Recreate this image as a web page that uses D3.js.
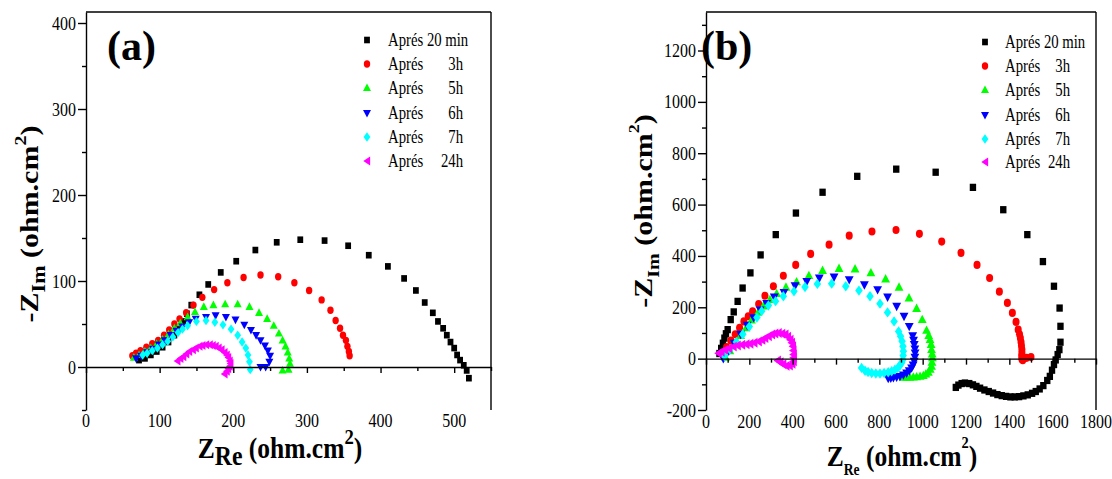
<!DOCTYPE html>
<html><head><meta charset="utf-8">
<script src="https://cdn.jsdelivr.net/npm/d3@7"></script>
<style>
body{margin:0;background:#fff}
svg{display:block}
text, tspan{font-family:"Liberation Serif","Times New Roman",Times,serif;fill:#000}
</style>
</head><body>
<svg id="c" width="1112" height="479"></svg>
<script>
// ---------- DATA ----------
const legendWord = ["Aprés","Aprés","Aprés","Aprés","Aprés","Aprés"];
const legendTime = ["20 min","3h","5h","6h","7h","24h"];
const colors = ["#000000","#ff0000","#00ff00","#0000ff","#00ffff","#ff00ff"];
const shapes = ["square","circle","up","down","diamond","left"];

// panel (a)
const a_20min = [[72,8],[80,10],[88,14],[96,18],[104,23],[112,29],[120,37],[127,45],[132,53],[137,62],[143,72],[154,84],[166,96],[183,110],[204,123],[230,136],[259,145],[291,148],[324,147],[356,141],[384,130],[410,117],[432,103],[448,89],[460,75],[471,63],[478,53],[485,45],[490,37],[495,29],[500,22],[504,14],[508,8],[513,2],[517,-4],[520,-13]];
const a_3h = [[63,13],[68,16],[74,19],[82,23],[90,27],[98,31],[106,37],[113,43],[120,50],[127,56],[136,63],[146,72],[158,81],[174,90],[192,98],[214,104],[237,107],[261,105],[283,98],[303,89],[320,78],[332,66],[339,54],[345,45],[349,37],[353,31],[355,24],[357,18],[358,13]];
const a_5h = [[65,11],[72,14],[80,18],[88,22],[96,27],[104,32],[112,38],[120,45],[128,51],[138,58],[148,64],[160,70],[173,72],[189,73],[206,73],[222,70],[235,63],[246,56],[255,48],[262,39],[267,31],[271,24],[274,17],[276,10],[277,4],[275,-3],[267,-4]];
const a_6h = [[68,10],[75,13],[83,17],[91,21],[99,26],[107,31],[115,37],[123,42],[131,47],[140,52],[149,56],[163,58],[176,60],[190,58],[203,55],[215,49],[224,43],[231,37],[237,31],[243,25],[247,19],[250,13],[249,6],[244,0],[237,0]];
const a_7h = [[77,14],[83,16],[90,19],[97,22],[104,26],[111,30],[118,35],[125,40],[131,44],[138,48],[150,53],[163,54],[175,52],[186,49],[197,44],[206,37],[212,29],[217,22],[220,14],[222,6],[223,-3]];
const a_24h = [[124,7],[128,10],[132,12],[136,15],[140,18],[145,20],[149,22],[154,24],[158,25],[163,26],[168,26],[172,25],[176,24],[180,22],[184,20],[188,17],[191,14],[193,11],[195,7],[196,4],[195,1],[193,-2],[191,-5],[188,-8]];

// panel (b)
const b_20min = [[62,20],[70,40],[78,60],[85,80],[92,97],[100,113],[114,152],[128,182],[146,223],[169,275],[205,334],[252,404],[322,483],[415,567],[538,648],[698,710],[878,738],[1060,726],[1232,667],[1372,580],[1483,483],[1555,378],[1606,282],[1632,197],[1636,126],[1636,64],[1631,35],[1623,16],[1614,-5],[1606,-23],[1597,-45],[1587,-69],[1575,-85],[1557,-105],[1540,-118],[1522,-128],[1505,-135],[1485,-141],[1465,-145],[1445,-148],[1425,-149],[1405,-149],[1385,-147],[1365,-144],[1345,-140],[1325,-134],[1305,-128],[1285,-122],[1265,-115],[1248,-108],[1232,-102],[1215,-97],[1195,-95],[1180,-97],[1165,-103],[1153,-112]];
const b_3h = [[75,20],[95,45],[115,70],[135,95],[155,120],[175,145],[195,165],[215,184],[243,213],[272,245],[311,282],[357,323],[414,365],[483,408],[568,444],[661,479],[766,495],[877,501],[985,486],[1088,456],[1177,412],[1251,365],[1309,314],[1354,261],[1391,217],[1414,178],[1431,143],[1441,113],[1447,95],[1451,80],[1454,65],[1456,50],[1458,35],[1458,22],[1457,10],[1458,-2],[1462,-6],[1480,3],[1500,6]];
const b_5h = [[90,5],[110,30],[135,60],[160,90],[185,120],[210,150],[240,180],[265,205],[295,230],[326,253],[369,278],[418,299],[475,323],[538,343],[614,351],[688,349],[761,334],[829,310],[891,278],[937,236],[972,195],[998,152],[1018,110],[1028,90],[1034,74],[1039,55],[1041,35],[1044,18],[1045,3],[1043,-14],[1041,-30],[1035,-42],[1026,-53],[1015,-60],[1003,-66],[988,-69],[972,-71],[957,-72],[941,-73],[926,-73],[911,-73]];
const b_6h = [[80,0],[105,30],[130,60],[160,95],[190,130],[220,160],[250,190],[280,215],[315,240],[360,258],[411,284],[465,301],[523,314],[591,318],[661,308],[731,288],[792,269],[838,240],[880,204],[914,165],[938,126],[954,90],[958,72],[961,55],[964,38],[965,22],[964,6],[961,-10],[956,-24],[949,-36],[938,-47],[926,-56],[911,-63],[895,-69],[880,-72],[865,-74],[853,-76],[841,-77]];
const b_7h = [[85,10],[110,35],[140,65],[170,95],[200,125],[235,160],[257,185],[288,207],[321,224],[357,243],[406,262],[457,279],[514,291],[580,292],[645,282],[706,265],[757,243],[803,214],[838,180],[868,145],[889,106],[898,87],[905,68],[909,48],[911,29],[910,12],[908,-4],[903,-16],[895,-27],[885,-36],[872,-43],[857,-49],[841,-53],[822,-56],[803,-58],[784,-58],[765,-56],[748,-52],[734,-47],[718,-36]];
const b_24h = [[57,21],[70,27],[87,34],[105,40],[126,47],[145,51],[165,54],[185,56],[203,58],[222,62],[242,67],[258,73],[272,80],[288,87],[303,94],[318,98],[334,100],[350,97],[365,94],[377,85],[388,74],[395,62],[400,48],[402,32],[403,16],[403,3],[403,-10],[397,-20],[385,-27],[370,-28],[355,-22],[342,-14],[330,-7]];

// ticks
const aXMajor = [0,100,200,300,400,500], aXMinor = [50,150,250,350,450,550];
const aYMajor = [0,100,200,300,400], aYMinor = [-50,50,150,250,350];
const bXMajor = [0,200,400,600,800,1000,1200,1400,1600,1800], bXMinor = [100,300,500,700,900,1100,1300,1500,1700];
const bYMajor = [-200,0,200,400,600,800,1000,1200], bYMinor = [-100,100,300,500,700,900,1100,1300];

// ---------- DRAW ----------
const svg = d3.select("#c");
const SX = 0.82;
const FONT = '"Liberation Serif","Times New Roman",Times,serif';

function symPath(shape, s) {
  switch (shape) {
    case "square": return `M${-2.9*s},${-3.3*s}h${5.8*s}v${6.6*s}h${-5.8*s}Z`;
    case "circle": { const rx=3.2*s, ry=3.7*s; return `M${-rx},0a${rx},${ry} 0 1,0 ${2*rx},0a${rx},${ry} 0 1,0 ${-2*rx},0Z`; }
    case "up": return `M0,${-4.5*s}L${4*s},${3.1*s}L${-4*s},${3.1*s}Z`;
    case "down": return `M0,${4.5*s}L${4*s},${-3.1*s}L${-4*s},${-3.1*s}Z`;
    case "diamond": return `M0,${-4.7*s}L${3.4*s},0L0,${4.7*s}L${-3.4*s},0Z`;
    case "left": return `M${-3.7*s},0L${3.1*s},${-4.5*s}L${3.1*s},${4.5*s}Z`;
  }
}

function stext(g, x, y, str, size, anchor, weight, sx) {
  return g.append("text")
    .attr("transform", `translate(${x},${y}) scale(${sx||SX},1)`)
    .attr("text-anchor", anchor || "start")
    .attr("font-family", FONT)
    .attr("font-size", size)
    .attr("font-weight", weight || "normal")
    .text(str);
}

function richText(g, transform, anchor, parts) {
  const t = g.append("text").attr("transform", transform).attr("text-anchor", anchor)
    .attr("font-family", FONT).attr("font-weight", "bold");
  parts.forEach(p => t.append("tspan").attr("font-size", p.size).attr("dy", p.dy || 0).text(p.t));
  return t;
}

function panel(cfg) {
  const g = svg.append("g");
  const x = d3.scaleLinear().domain(cfg.xDomain).range(cfg.xRange);
  const y = d3.scaleLinear().domain(cfg.yDomain).range(cfg.yRange);
  const x0 = cfg.xRange[0], x1 = cfg.xRange[1], yTop = cfg.yRange[1], yBot = cfg.yRange[0];

  cfg.series.forEach((data, i) => {
    g.append("g").selectAll("path").data(data).join("path")
      .attr("d", symPath(shapes[i], cfg.sym))
      .attr("transform", d => `translate(${x(d[0])},${y(d[1])})`)
      .attr("fill", colors[i]);
  });

  const ya = g.append("g").attr("transform", `translate(${x0},0)`)
    .call(d3.axisLeft(y).tickValues(cfg.yMajor).tickSize(8).tickSizeOuter(0).tickFormat(""));
  const ym = g.append("g").attr("transform", `translate(${x0},0)`)
    .call(d3.axisLeft(y).tickValues(cfg.yMinor).tickSize(4).tickSizeOuter(0).tickFormat(""));
  ym.select(".domain").remove();
  const xa = g.append("g").attr("transform", `translate(0,${y(0)})`)
    .call(d3.axisBottom(x).tickValues(cfg.xMajor).tickSize(6).tickSizeOuter(0).tickFormat(""));
  const xm = g.append("g").attr("transform", `translate(0,${y(0)})`)
    .call(d3.axisBottom(x).tickValues(cfg.xMinor).tickSize(4).tickSizeOuter(0).tickFormat(""));
  xm.select(".domain").remove();
  [ya, ym, xa, xm].forEach(a => a.selectAll("path,line").attr("stroke", "#000").attr("stroke-width", 1.4));

  g.append("line").attr("x1", x0).attr("x2", x1).attr("y1", yTop).attr("y2", yTop).attr("stroke", "#000").attr("stroke-width", 1.4);
  g.append("line").attr("x1", x1).attr("x2", x1).attr("y1", yTop).attr("y2", yBot).attr("stroke", "#000").attr("stroke-width", 1.4);

  cfg.yMajor.forEach(v => stext(g, x0 - 10, y(v) + 6.5, String(v), 19.5, "end"));
  cfg.xMajor.forEach(v => stext(g, x(v), cfg.xLabelY, String(v), 19.5, "middle"));

  stext(g, cfg.letterX, 60, cfg.letter, 42, "start", "bold", 1);

  cfg.series.forEach((d, i) => {
    const ly = cfg.legY[i];
    g.append("path").attr("d", symPath(shapes[i], 1)).attr("transform", `translate(${cfg.legSymX},${ly})`).attr("fill", colors[i]);
    if (i === 0) {
      stext(g, cfg.legTextX, ly + 6, legendWord[i] + " " + legendTime[i], 18, "start");
    } else {
      stext(g, cfg.legTextX, ly + 6, legendWord[i], 18, "start");
      stext(g, cfg.legEnd, ly + 6, legendTime[i], 18, "end");
    }
  });
  return g;
}

panel({
  xDomain: [0, 550], xRange: [86, 491], yDomain: [-50, 412.8], yRange: [410, 12],
  series: [a_20min, a_3h, a_5h, a_6h, a_7h, a_24h], sym: 1,
  xMajor: aXMajor, xMinor: aXMinor, yMajor: aYMajor, yMinor: aYMinor,
  xLabelY: 427, letter: "(a)", letterX: 107,
  legSymX: 367, legTextX: 388, legEnd: 463, legY: [40, 64, 88, 113, 137, 161]
});
panel({
  xDomain: [0, 1800], xRange: [706, 1096], yDomain: [-200, 1350], yRange: [410, 12],
  series: [b_20min, b_3h, b_5h, b_6h, b_7h, b_24h], sym: 1.1,
  xMajor: bXMajor, xMinor: bXMinor, yMajor: bYMajor, yMinor: bYMinor,
  xLabelY: 428, letter: "(b)", letterX: 701,
  legSymX: 985, legTextX: 1005, legEnd: 1070, legY: [42, 66, 90, 115, 139, 162]
});

// axis titles (a)
richText(svg, `translate(280,458) scale(0.85,1)`, "middle", [
  {t:"Z", size:30}, {t:"Re", size:28, dy:7}, {t:" (ohm.cm", size:30, dy:-7}, {t:"2", size:22, dy:-14}, {t:")", size:30, dy:14}
]);
richText(svg, `translate(38,224) scale(0.85,1) rotate(-90)`, "middle", [
  {t:"-Z", size:30}, {t:"Im", size:22, dy:8}, {t:" (ohm.cm", size:30, dy:-8}, {t:"2", size:20, dy:-14}, {t:")", size:30, dy:14}
]);
// axis titles (b)
richText(svg, `translate(902,466) scale(0.85,1)`, "middle", [
  {t:"Z", size:30}, {t:"Re", size:16, dy:9}, {t:" (ohm.cm", size:30, dy:-9}, {t:"2", size:17, dy:-18}, {t:")", size:30, dy:18}
]);
richText(svg, `translate(652,211) scale(0.85,1) rotate(-90)`, "middle", [
  {t:"-Z", size:30}, {t:"Im", size:20, dy:8}, {t:" (ohm.cm", size:30, dy:-8}, {t:"2", size:18, dy:-15}, {t:")", size:30, dy:15}
]);
</script>
</body></html>
